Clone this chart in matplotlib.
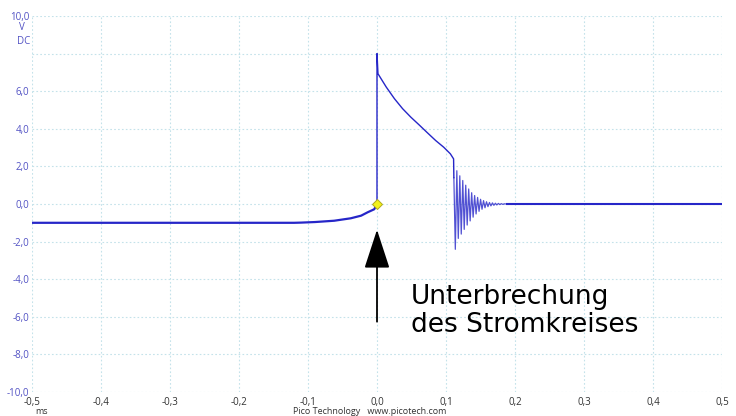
#!/usr/bin/env python3
# -*- coding: utf-8 -*-
"""
Oscilloscope trace: voltage across the coil when the circuit is opened.
"""
#------------------------------------------------------------------------------#
import matplotlib
matplotlib.use('Agg')
import matplotlib.pyplot as plt
#------------------------------------------------------------------------------#
# Data (time in ms, voltage in V).
pre_t = [-0.5, -0.12, -0.11, -0.09, -0.062, -0.038, -0.023, -0.0135, -0.004, 0.0]
pre_v = [-1.0, -1.0, -0.99, -0.96, -0.89, -0.76, -0.62, -0.44, -0.28, 0.0]

decay_t = [0.0, 0.0, 0.0014, 0.0134, 0.0253, 0.0371, 0.049, 0.061, 0.073,
           0.0849, 0.0967, 0.1063, 0.111, 0.1114]
decay_v = [0.0, 8.0, 6.93, 6.22, 5.6, 5.07, 4.62, 4.21, 3.79,
           3.38, 3.02, 2.67, 2.4, 1.4]

trough_t = [0.1135, 0.1178, 0.1221, 0.1264, 0.1307, 0.1350, 0.1393, 0.1436, 0.1479,
            0.1522, 0.1565, 0.1608, 0.1651, 0.1694, 0.1737, 0.1780, 0.1823]
trough_v = [-2.41, -1.83, -1.6, -1.35, -1.12, -0.9, -0.7, -0.53, -0.39,
            -0.28, -0.2, -0.14, -0.1, -0.07, -0.05, -0.03, -0.02]
peak_t = [0.1157, 0.1200, 0.1243, 0.1286, 0.1329, 0.1372, 0.1415, 0.1458, 0.1501,
          0.1544, 0.1587, 0.1630, 0.1673, 0.1716, 0.1759, 0.1802, 0.1845]
peak_v = [1.77, 1.5, 1.25, 1.0, 0.8, 0.6, 0.45, 0.35, 0.25,
          0.18, 0.12, 0.08, 0.06, 0.04, 0.03, 0.02, 0.01]

tail_t = [0.187, 0.5]
tail_v = [0.0, 0.0]

x_ticks = [-0.5, -0.4, -0.3, -0.2, -0.1, 0.0, 0.1, 0.2, 0.3, 0.4, 0.5]
x_labels = ['-0,5', '-0,4', '-0,3', '-0,2', '-0,1', '0,0', '0,1', '0,2', '0,3', '0,4', '0,5']
y_ticks = [-10, -8, -6, -4, -2, 0, 2, 4, 6, 8, 10]
y_labels = ['-10,0', '-8,0', '-6,0', '-4,0', '-2,0', '0,0', '2,0', '4,0', '6,0', '', '10,0']
#------------------------------------------------------------------------------#
trace_col = '#2626c8'
grid_col = '#c4e2ea'
label_col = '#5252c4'

plt.rcParams['font.family'] = ['Open Sans', 'DejaVu Sans']

fig = plt.figure(figsize=(7.36, 4.16), dpi=100)
ax = fig.add_axes([32/736, 1 - 392/416, 690/736, 376/416])

# ringing: interleave troughs and peaks
ring_t = []
ring_v = []
for a, b, c, d in zip(trough_t, trough_v, peak_t, peak_v):
    ring_t += [a, c]
    ring_v += [b, d]

ax.plot(pre_t, pre_v, color=trace_col, lw=1.6, solid_capstyle='butt')
ax.plot(decay_t, decay_v, color=trace_col, lw=1.0)
ax.plot([decay_t[-1]] + ring_t + [tail_t[0]], [decay_v[-1]] + ring_v + [tail_v[0]],
        color=trace_col, lw=0.9, alpha=0.8)
ax.plot(tail_t, tail_v, color=trace_col, lw=1.5, solid_capstyle='butt')

# trigger marker
ax.plot([0.0], [0.0], marker='D', ms=5.5, mfc='#f2f21a', mec='#b0a820', mew=0.7, zorder=5)

ax.set_xlim(-0.5, 0.5)
ax.set_ylim(-10, 10)
ax.set_xticks(x_ticks)
ax.set_yticks(y_ticks)
ax.set_xticklabels(x_labels, fontsize=7, color='#333333')
ax.set_yticklabels(y_labels, fontsize=7, color=label_col)
ax.tick_params(length=0, pad=2)
ax.tick_params(axis='x', pad=3.5)
for s in ax.spines.values():
    s.set_visible(False)
ax.grid(True, color=grid_col, ls=(0, (1.5, 2)), lw=0.8)
ax.set_axisbelow(True)

# annotation arrow + text
ax.annotate('', xy=(0.0, -1.37), xytext=(0.0, -6.26),
            arrowprops=dict(arrowstyle='-|>,head_length=2.45,head_width=0.8',
                            color='black', lw=1.3, shrinkA=0, shrinkB=0))
ax.text(0.049, -4.28, 'Unterbrechung\ndes Stromkreises', fontsize=19,
        family='DejaVu Sans', va='top', ha='left', linespacing=1.1)

# unit labels
fig.text(22/736, 1 - 28/416, 'V', fontsize=7, color=label_col, ha='center', va='center')
fig.text(30/736, 1 - 41/416, 'DC', fontsize=7, color=label_col, ha='right', va='center')
fig.text(35/736, 1 - 407.5/416, 'ms', fontsize=6.5, color='#333333', ha='left', va='top')
fig.text(370/736, 1 - 407.5/416, 'Pico Technology   www.picotech.com', fontsize=6.5,
         color='#333333', ha='center', va='top')

fig.savefig('out.png', dpi=100)
